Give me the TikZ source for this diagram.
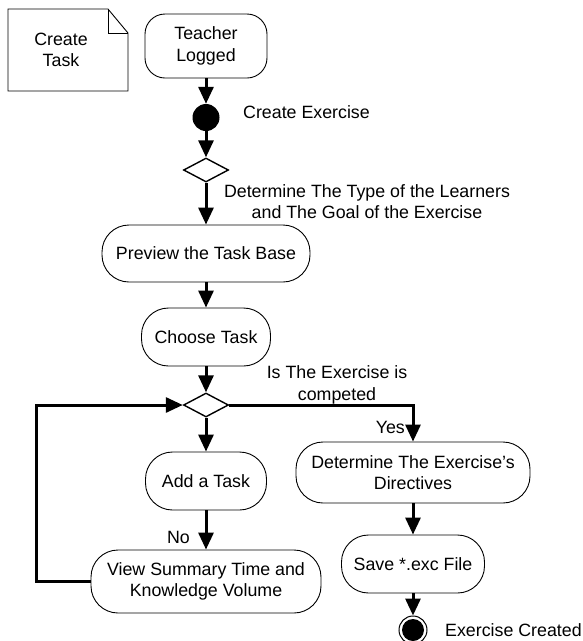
\documentclass[tikz,border=0pt]{standalone}
\usepackage{fontspec}
\setmainfont{Liberation Sans}
\usetikzlibrary{arrows.meta,shapes.geometric}
\begin{document}
\begin{tikzpicture}[x=1pt,y=-1pt,
  every node/.style={font=\fontsize{17.8}{21.5}\selectfont, inner sep=0pt},
  activity/.style={draw, line width=0.9pt, rounded corners=27pt, align=center},
  branch/.style={draw, diamond, line width=1.4pt, minimum width=45pt, minimum height=24pt},
  flow/.style={line width=3pt, -{Triangle[length=17pt,width=15pt]}},
  lbl/.style={align=center}]
\useasboundingbox (0,0) rectangle (583,641);

% note with folded corner
\draw[line width=0.9pt] (8,9) -- (108,9) -- (128,33) -- (128,91) -- (8,91) -- cycle;
\draw[line width=0.9pt] (108,9) -- (108,33) -- (128,33);
\node[lbl] (note) at (61,50) {Create\\Task};

% main column
\node[activity, rounded corners=20pt, minimum width=122pt, minimum height=64pt] (teacher) at (206,46) {Teacher\\Logged};
\node[circle, fill=black, minimum size=27pt] (start) at (206,117.5) {};
\node[branch] (d1) at (206,170) {};
\node[activity, minimum width=208pt, minimum height=57pt] (preview) at (206,253.5) {Preview the Task Base};
\node[activity, minimum width=129pt, minimum height=58pt] (choose) at (206,337) {Choose Task};
\node[branch] (d2) at (206,405) {};
\node[activity, minimum width=121pt, minimum height=58pt] (add) at (206,481) {Add a Task};
\node[activity, minimum width=230pt, minimum height=63pt] (view) at (206,581.5) {View Summary Time and\\Knowledge Volume};

% right column
\node[activity, minimum width=234pt, minimum height=61pt] (directives) at (413,472.5) {Determine The Exercise’s\\Directives};
\node[activity, minimum width=143pt, minimum height=58pt] (save) at (413,564) {Save *.exc File};
\node[circle, draw, line width=1pt, minimum size=28pt,
  path picture={\fill (path picture bounding box.center) circle (11pt);}] (finish) at (413,630) {};

% labels
\node[anchor=west] (lcreate) at (243,112) {Create Exercise};
\node[lbl] (ltype) at (367,201.5) {Determine The Type of the Learners\\and The Goal of the Exercise};
\node[lbl] (lcomplete) at (337,385) {Is The Exercise is\\competed};
\node[anchor=east] (lyes) at (405,427) {Yes};
\node[anchor=east] (lno) at (190,537) {No};
\node[anchor=west] (lend) at (445,630) {Exercise Created};

% connectors
\coordinate (loopx) at (36,0);
\draw[flow] (teacher.south) -- (start.north);
\draw[flow] (start.south) -- (d1.north);
\draw[flow] (d1.south) -- (preview.north);
\draw[flow] (preview.south) -- (choose.north);
\draw[flow] (choose.south) -- (d2.north);
\draw[flow] (d2.south) -- (add.north);
\draw[flow] (add.south) -- (view.north);
\draw[flow] (view.west) -- (view.west -| loopx) |- (d2.west);
\draw[flow] (d2.east) -| (directives.north);
\draw[flow] (directives.south) -- (save.north);
\draw[flow] (save.south) -- (finish.north);
\end{tikzpicture}
\end{document}
